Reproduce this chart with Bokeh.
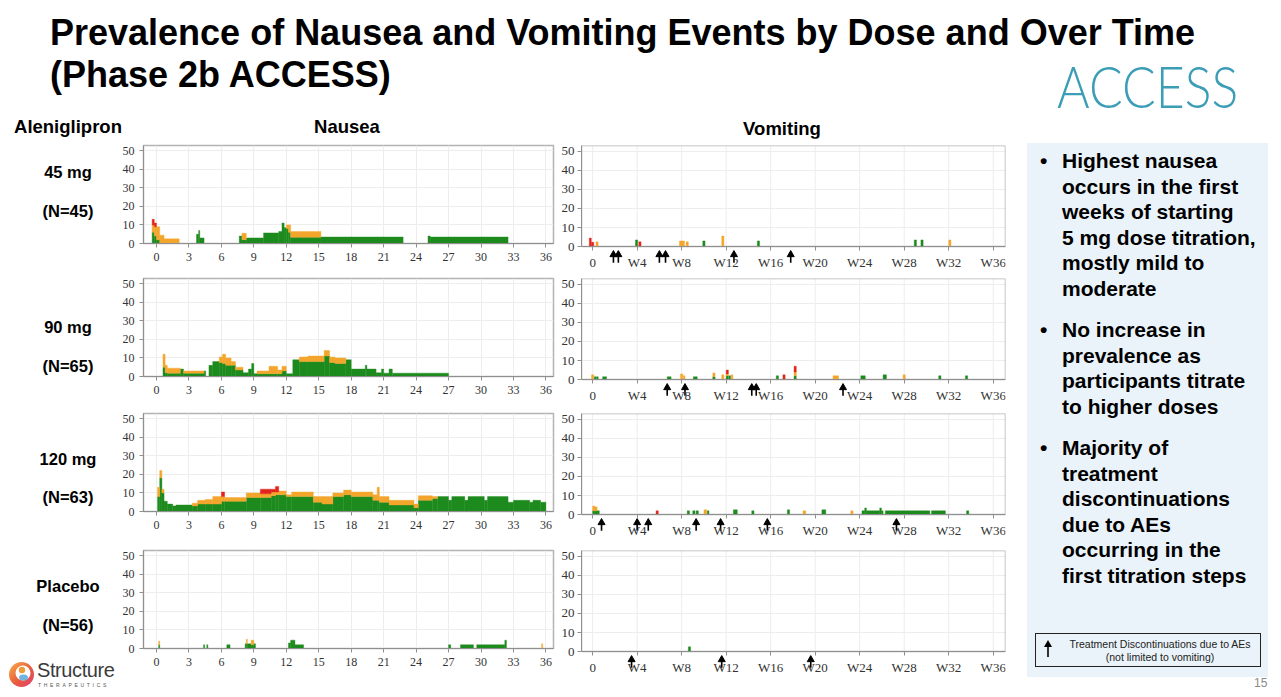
from bokeh.plotting import figure
from bokeh.models import Range1d, FixedTicker, Div, Spacer
from bokeh.layouts import row, column
from bokeh.embed import file_html
from bokeh.resources import INLINE

# ---------------- data ----------------
# Nausea prevalence (%) over time: (week_start, week_end, mild, moderate, severe)
N45 = [(-0.4, -0.2, 6, 4, 3), (-0.2, 0.0, 4, 5, 2), (0.0, 0.3, 2, 7, 0), (0.3, 0.7, 0, 4.5, 0),
       (0.7, 2.1, 0, 2.5, 0), (3.7, 3.9, 5, 0, 0), (3.9, 4.0, 7, 0, 0), (4.0, 4.4, 3, 0, 0),
       (7.65, 7.9, 4, 0, 0), (7.9, 8.3, 2, 3.5, 0), (8.3, 9.9, 3, 0, 0), (9.9, 11.3, 5.7, 0, 0),
       (11.3, 11.6, 6.5, 0, 0), (11.6, 11.8, 11, 0, 0), (11.8, 12.0, 8.5, 0, 0), (12.0, 12.2, 8, 2, 0),
       (12.2, 12.4, 6, 4, 0), (12.4, 15.2, 3.3, 3.2, 0), (15.2, 22.8, 3.5, 0, 0),
       (25.1, 25.3, 4, 0, 0), (25.3, 32.5, 3.5, 0, 0)]
N90 = [(0.6, 0.8, 5, 7, 0), (0.8, 1.0, 2, 4, 0), (1.0, 2.2, 1.8, 2.7, 0), (2.2, 2.5, 4, 0, 0),
       (2.5, 4.4, 1.8, 1.2, 0), (4.4, 4.55, 3, 0, 0), (4.85, 5.2, 6, 0, 0), (5.2, 5.8, 8, 0, 0),
       (5.8, 6.1, 7.5, 3, 0), (6.1, 6.4, 7, 5, 0), (6.4, 6.9, 6, 4, 0), (6.9, 7.3, 6, 2, 0),
       (7.3, 8.0, 3.5, 1.5, 0), (8.0, 8.5, 2, 0, 0), (8.5, 8.8, 4, 0, 0), (8.8, 9.0, 7, 0, 0),
       (9.0, 9.3, 1.5, 0, 0), (9.3, 10.4, 1.5, 1.5, 0), (10.4, 11.2, 1.5, 4, 0), (11.2, 11.6, 1.5, 2, 0),
       (11.6, 12.0, 3, 2.5, 0), (12.0, 12.6, 1.5, 0, 0), (12.6, 13.2, 9, 0, 0), (13.2, 14.0, 8, 2.5, 0),
       (14.0, 15.5, 8, 3, 0), (15.5, 16.0, 11, 3, 0), (16.0, 16.5, 7.5, 3, 0), (16.5, 17.5, 7, 3, 0),
       (17.5, 18.0, 9, 0, 0), (18.0, 19.3, 4, 0, 0), (19.3, 19.45, 6, 0, 0), (19.45, 20.3, 4, 0, 0),
       (20.3, 20.8, 2, 0, 0), (20.8, 21.0, 4, 0, 0), (21.0, 21.5, 1.8, 0, 0), (21.5, 21.8, 4, 0, 0),
       (21.8, 27.0, 1.8, 0, 0)]
N120 = [(0.1, 0.3, 8, 5, 0), (0.3, 0.5, 18, 4, 0), (0.5, 0.7, 10, 2, 0), (0.7, 1.0, 5.5, 0, 0),
        (1.0, 1.5, 4, 0, 0), (1.5, 1.8, 3, 0, 0), (1.8, 3.3, 3.5, 0, 0), (3.3, 3.8, 3, 1.5, 0),
        (3.8, 4.5, 4, 2, 0), (4.5, 5.2, 4, 2.5, 0), (5.2, 6.0, 4, 4, 0), (6.0, 6.3, 5.5, 2.5, 2.5),
        (6.3, 8.3, 5.5, 2, 0), (8.3, 9.6, 7.5, 2.5, 0), (9.6, 10.6, 7.5, 2, 2.5), (10.6, 11.0, 8.5, 2, 1.5),
        (11.0, 11.3, 9, 1.5, 3), (11.3, 12.0, 9, 2, 0), (12.0, 12.5, 8, 1, 0), (12.5, 14.5, 8, 2.5, 0),
        (14.5, 15.3, 5, 3, 0), (15.3, 16.3, 4, 4, 0), (16.3, 17.3, 8, 2, 0), (17.3, 18.0, 9, 2.5, 0),
        (18.0, 20.0, 8, 2.5, 0), (20.0, 20.4, 6, 3, 0), (20.4, 20.6, 6, 7, 0), (20.6, 21.5, 5, 3, 0),
        (21.5, 23.8, 3.5, 2.5, 0), (23.8, 24.2, 2, 2, 0), (24.2, 25.5, 6, 2.5, 0), (25.5, 26.0, 7, 1, 0),
        (26.0, 27.0, 8, 0, 0), (27.0, 27.3, 6, 0, 0), (27.3, 28.5, 8, 0, 0), (28.5, 28.8, 6, 0, 0),
        (28.8, 30.3, 8, 0, 0), (30.3, 30.6, 6, 0, 0), (30.6, 32.5, 8, 0, 0), (32.5, 33.0, 5, 0, 0),
        (33.0, 34.5, 6, 0, 0), (34.5, 34.8, 5, 0, 0), (34.8, 35.5, 6, 0, 0), (35.5, 36.0, 5, 0, 0)]
NPBO = [(0.2, 0.3, 2, 2, 0), (4.35, 4.45, 2, 0, 0), (4.65, 4.75, 2, 0, 0), (6.5, 6.8, 2, 0, 0),
        (8.2, 8.3, 2.5, 0, 0), (8.3, 8.4, 2.5, 2.5, 0), (8.4, 8.75, 2.5, 0, 0), (8.75, 9.0, 2, 2.5, 0),
        (9.0, 9.15, 2.5, 0, 0), (12.2, 12.4, 3, 0, 0), (12.4, 12.8, 4.5, 0, 0), (12.8, 13.6, 2, 0, 0),
        (27.0, 27.2, 2, 0, 0), (28.1, 29.3, 2, 0, 0), (29.6, 32.2, 2, 0, 0), (32.2, 32.35, 4.5, 0, 0),
        (35.6, 35.7, 0, 2.5, 0)]

# Vomiting prevalence (%): (week_start, week_end, mild, moderate, severe)
V45 = [(-0.3, -0.12, 0, 0, 4.5), (-0.1, 0.1, 0, 0, 2.3), (0.3, 0.5, 0, 2.5, 0), (3.85, 4.05, 3.5, 0, 0),
       (4.15, 4.35, 0, 0, 2.5), (7.8, 8.25, 0, 3, 0), (8.4, 8.6, 0, 2.5, 0), (9.9, 10.1, 3, 0, 0),
       (11.6, 11.8, 0, 5.5, 0), (14.8, 15.0, 3, 0, 0), (28.9, 29.1, 3.5, 0, 0), (29.5, 29.7, 3.5, 0, 0),
       (32.0, 32.2, 0, 3.5, 0)]
V90 = [(-0.1, 0.1, 0, 2.5, 0), (0.15, 0.3, 1.5, 0, 0), (0.35, 0.5, 1.5, 0, 0), (0.9, 1.25, 1.5, 0, 0),
       (6.7, 7.05, 1.5, 0, 0), (7.9, 8.1, 0, 3, 0), (8.15, 8.3, 0, 2, 0), (9.05, 9.4, 1.5, 0, 0),
       (10.8, 11.0, 1.5, 2, 0), (11.6, 11.8, 0, 2.5, 0), (12.0, 12.2, 2, 1, 2), (12.25, 12.4, 2, 0, 0),
       (12.45, 12.6, 0, 2.5, 0), (16.5, 16.7, 2, 0, 0), (17.1, 17.3, 0, 0, 2.5), (18.1, 18.3, 2, 2, 3),
       (21.6, 22.1, 0, 2, 0), (24.1, 24.5, 2, 0, 0), (26.1, 26.4, 2.5, 0, 0), (27.9, 28.1, 0, 2.5, 0),
       (31.1, 31.3, 2, 0, 0), (33.5, 33.7, 2, 0, 0)]
V120 = [(0.0, 0.2, 2, 2.5, 0), (0.2, 0.4, 2, 2, 0), (0.4, 0.6, 2, 0, 0), (5.7, 5.9, 0, 0, 2),
        (8.5, 8.7, 2, 0, 0), (9.0, 9.2, 2, 0, 0), (9.3, 9.5, 2, 0, 0), (10.0, 10.25, 0, 2.5, 0),
        (10.3, 10.45, 2, 0, 0), (12.65, 13.0, 2.5, 0, 0), (14.3, 14.5, 2, 0, 0), (17.5, 17.7, 2.5, 0, 0),
        (18.9, 19.15, 0, 2, 0), (20.6, 20.95, 2.5, 0, 0), (23.2, 23.4, 0, 2, 0), (24.2, 24.45, 2, 0, 0),
        (24.45, 24.6, 3.5, 0, 0), (24.6, 25.8, 2, 0, 0), (25.8, 25.95, 3.5, 0, 0), (25.95, 26.1, 2, 0, 0),
        (26.3, 30.3, 2, 0, 0), (30.45, 31.7, 2, 0, 0), (33.6, 33.8, 2, 0, 0)]
VPBO = [(8.6, 8.8, 2.5, 0, 0)]

# Treatment discontinuations due to AEs (week)
D45 = [1.87, 2.31, 6.0, 6.55, 12.7, 17.8]
D90 = [6.7, 8.3, 14.3, 14.7, 22.5]
D120 = [0.8, 4.0, 5.0, 9.3, 11.5, 15.7, 27.3]
DPBO = [3.5, 11.6, 19.6]

N_X_TICKS = [0, 3, 6, 9, 12, 15, 18, 21, 24, 27, 30, 33, 36]
V_X_TICKS = [0, 4, 8, 12, 16, 20, 24, 28, 32, 36]
V_X_LABELS = ["0", "W4", "W8", "W12", "W16", "W20", "W24", "W28", "W32", "W36"]
Y_TICKS = [0, 10, 20, 30, 40, 50]

DOSES = ["45 mg", "90 mg", "120 mg", "Placebo"]
NS = ["(N=45)", "(N=65)", "(N=63)", "(N=56)"]

TITLE = ["Prevalence of Nausea and Vomiting Events by Dose and Over Time", "(Phase 2b ACCESS)"]
BULLETS = [["Highest nausea", "occurs in the first", "weeks of starting", "5 mg dose titration,", "mostly mild to", "moderate"],
           ["No increase in", "prevalence as", "participants titrate", "to higher doses"],
           ["Majority of", "treatment", "discontinuations", "due to AEs", "occurring in the", "first titration steps"]]
LEGEND_TEXT = ["Treatment Discontinuations due to AEs", "(not limited to vomiting)"]

# ---------------- style ----------------
GREEN = "#1d8a1d"
ORANGE = "#f3a62b"
RED = "#e2231c"
FONT = "'Liberation Sans', Arial, sans-serif"

ROW_H = [131, 137, 135, 147]
N_BOTTOM = [h - 103 for h in ROW_H]
V_FRAME_H = 124
V_TOP = [7, 9, 7, 9]
LABEL_Y = [(34, 73), (58, 97), (53, 91), (45, 84)]


def add_stack(p, segs):
    for k, col in enumerate([GREEN, ORANGE, RED]):
        L, R, B, T = [], [], [], []
        for s in segs:
            vals = s[2:]
            h = vals[k]
            if h <= 0:
                continue
            base = sum(vals[:k])
            L.append(s[0]); R.append(s[1]); B.append(base); T.append(base + h)
        if L:
            p.quad(left=L, right=R, bottom=B, top=T, fill_color=col, line_color=col, line_width=0.4)


def style_axes(p, xticks, xlabels, fsize, xstand, ystand):
    p.xaxis.ticker = FixedTicker(ticks=xticks)
    p.xaxis.major_label_overrides = {t: l for t, l in zip(xticks, xlabels)}
    p.yaxis.ticker = FixedTicker(ticks=Y_TICKS)
    for ax in p.axis:
        ax.major_tick_out = 4
        ax.major_tick_in = 0
        ax.minor_tick_out = 0
        ax.minor_tick_in = 0
        ax.axis_line_color = "#8f8f8f"
        ax.major_tick_line_color = "#8f8f8f"
        ax.major_label_text_font = "Liberation Serif"
        ax.major_label_text_font_size = fsize
        ax.major_label_text_color = "#333333"
    p.xaxis.major_label_standoff = xstand
    p.yaxis.major_label_standoff = ystand
    p.grid.grid_line_color = "#ededed"


def nausea_fig(segs, bottom):
    p = figure(frame_width=410, frame_height=98, x_range=Range1d(-1.2, 36.7), y_range=Range1d(0, 52.7),
               min_border_left=25, min_border_right=2, min_border_top=5, min_border_bottom=bottom,
               toolbar_location=None, output_backend="svg")
    p.outline_line_color = "#b3b3b3"
    p.outline_line_width = 1.5
    style_axes(p, N_X_TICKS, [str(t) for t in N_X_TICKS], "12px", 5, 5)
    add_stack(p, segs)
    return p


def vomit_fig(segs, disc, top, bottom):
    p = figure(frame_width=424, frame_height=V_FRAME_H, x_range=Range1d(-1.0, 37.1), y_range=Range1d(-12, 53),
               min_border_left=26, min_border_right=22, min_border_top=top, min_border_bottom=bottom,
               toolbar_location=None, output_backend="svg")
    p.outline_line_color = None
    style_axes(p, V_X_TICKS, V_X_LABELS, "13px", 4, 3)
    p.xaxis.fixed_location = 0
    p.yaxis.bounds = (0, 53)
    p.xgrid.visible = False
    p.segment(x0=V_X_TICKS, y0=0, x1=V_X_TICKS, y1=53, line_color="#ededed", line_width=1)
    p.quad(left=-1.0, right=37.1, bottom=0, top=53, fill_color=None, line_color="#b3b3b3", line_width=1.5)
    add_stack(p, segs)
    n = len(disc)
    p.segment(x0=disc, y0=[-5.0] * n, x1=disc, y1=[-8.4] * n, line_color="black", line_width=1.6)
    p.scatter(x=disc, y=[-4.2] * n, marker="triangle", size=7, fill_color="black", line_color="black")
    return p


def label_div(i, h):
    dy, ny = LABEL_Y[i]
    extra = ""
    if i == 3:
        extra = (
            '<svg style="position:absolute;left:0px;top:120px" width="27" height="27" viewBox="0 0 27 27">'
            '<defs><linearGradient id="lg" x1="0" y1="0" x2="1" y2="1">'
            '<stop offset="0" stop-color="#f7b24a"/><stop offset="0.55" stop-color="#ea5a3c"/>'
            '<stop offset="1" stop-color="#e0407a"/></linearGradient></defs>'
            '<circle cx="13.5" cy="13.5" r="12.5" fill="url(#lg)"/>'
            '<circle cx="15" cy="12" r="7.5" fill="#ffffff"/>'
            '<circle cx="14" cy="9" r="3.2" fill="#f29a3a"/>'
            '<ellipse cx="15.5" cy="16.5" rx="4.5" ry="3" fill="#6fb5e0"/></svg>'
            f'<div style="position:absolute;left:29px;top:119px;font-family:{FONT};font-size:20px;'
            'line-height:20px;color:#3b3b3b;letter-spacing:-0.4px;">Structure</div>'
            f'<div style="position:absolute;left:30px;top:142px;font-family:{FONT};font-size:5px;'
            'line-height:5px;color:#555;letter-spacing:2.7px;">THERAPEUTICS</div>'
        )
    html = (
        f'<div style="position:relative;width:110px;height:{h}px;font-family:{FONT};">'
        f'<div style="position:absolute;left:0;top:{dy - 10}px;width:120px;text-align:center;'
        f'font-weight:bold;font-size:16.5px;line-height:20px;color:#000;">{DOSES[i]}</div>'
        f'<div style="position:absolute;left:0;top:{ny - 10}px;width:120px;text-align:center;'
        f'font-weight:bold;font-size:16.5px;line-height:20px;color:#000;">{NS[i]}</div>'
        f'{extra}</div>'
    )
    return Div(text=html, width=110, height=h, margin=0)


# ---------------- title ----------------
title_html = (
    f'<div style="position:relative;width:1265px;height:108px;font-family:{FONT};">'
    f'<div style="position:absolute;left:42px;top:4px;font-weight:bold;font-size:36px;line-height:42px;'
    f'color:#000;white-space:nowrap;">{TITLE[0]}<br>{TITLE[1]}</div>'
    '<div style="position:absolute;left:1049px;top:49px;font-family:Lato,\'Open Sans\',sans-serif;'
    'font-weight:300;font-size:58px;line-height:58px;color:#3b9db6;transform:scaleX(0.86);'
    'transform-origin:left top;white-space:nowrap;">ACCESS</div></div>'
)
title_div = Div(text=title_html, width=1265, height=108, margin=0)

hdr_style = f"position:absolute;top:0;font-family:{FONT};font-weight:bold;font-size:18.5px;line-height:22px;color:#000;text-align:center;"
hdr_a = Div(text=f'<div style="position:relative;width:110px;height:22px;"><div style="{hdr_style}left:0;width:120px;">Aleniglipron</div></div>',
            width=110, height=22, margin=0)
hdr_n = Div(text=f'<div style="position:relative;width:437px;height:22px;"><div style="{hdr_style}left:129px;width:200px;">Nausea</div></div>',
            width=437, height=22, margin=0)
hdr_v = Div(text=f'<div style="position:relative;width:472px;height:24px;"><div style="{hdr_style}left:127px;width:200px;top:2px;">Vomiting</div></div>',
            width=472, height=22, margin=0)

N_DATA = [N45, N90, N120, NPBO]
V_DATA = [V45, V90, V120, VPBO]
D_DATA = [D45, D90, D120, DPBO]

rows = [row(hdr_a, hdr_n, hdr_v, spacing=0)]
for i in range(4):
    nf = nausea_fig(N_DATA[i], N_BOTTOM[i])
    vf = vomit_fig(V_DATA[i], D_DATA[i], V_TOP[i], ROW_H[i] - V_TOP[i] - V_FRAME_H)
    rows.append(row(label_div(i, ROW_H[i]), nf, vf, spacing=0))
left_block = column(*rows, spacing=0)

# ---------------- right panel ----------------
PAR_TOPS = [32, 201, 319]
bullet_html = ""
for top, lines in zip(PAR_TOPS, BULLETS):
    bullet_html += (
        f'<div style="position:absolute;left:13px;top:{top}px;font-size:21px;line-height:25.6px;font-weight:bold;">&#8226;</div>'
        f'<div style="position:absolute;left:35px;top:{top}px;font-size:21px;line-height:25.6px;font-weight:bold;'
        f'color:#000;white-space:nowrap;">{"<br>".join(lines)}</div>'
    )
panel_html = (
    f'<div style="position:relative;width:243px;height:574px;font-family:{FONT};">'
    '<div style="position:absolute;left:0;top:27px;width:241px;height:534px;background:#eaf3f9;"></div>'
    f'{bullet_html}'
    '<div style="position:absolute;left:8px;top:517px;width:226px;height:34px;border:1px solid #222;"></div>'
    '<svg style="position:absolute;left:16px;top:524px" width="10" height="18">'
    '<polygon points="5,0 9,7 1,7" fill="#000"/><line x1="5" y1="6" x2="5" y2="17" stroke="#000" stroke-width="1.6"/></svg>'
    '<div style="position:absolute;left:30px;top:522px;width:206px;text-align:center;font-size:10.5px;'
    f'line-height:13px;color:#222;">{LEGEND_TEXT[0]}<br>{LEGEND_TEXT[1]}</div>'
    '<div style="position:absolute;left:227px;top:561px;font-size:12px;line-height:13px;color:#8a8a8a;">15</div>'
    '</div>'
)
panel = Div(text=panel_html, width=243, height=574, margin=0)

body = column(title_div, row(left_block, panel, spacing=0), spacing=0)
layout = row(Spacer(width=8, height=689), column(Spacer(width=1265, height=8), body, spacing=0), spacing=0)

open("out.html", "w").write(file_html(layout, INLINE))
